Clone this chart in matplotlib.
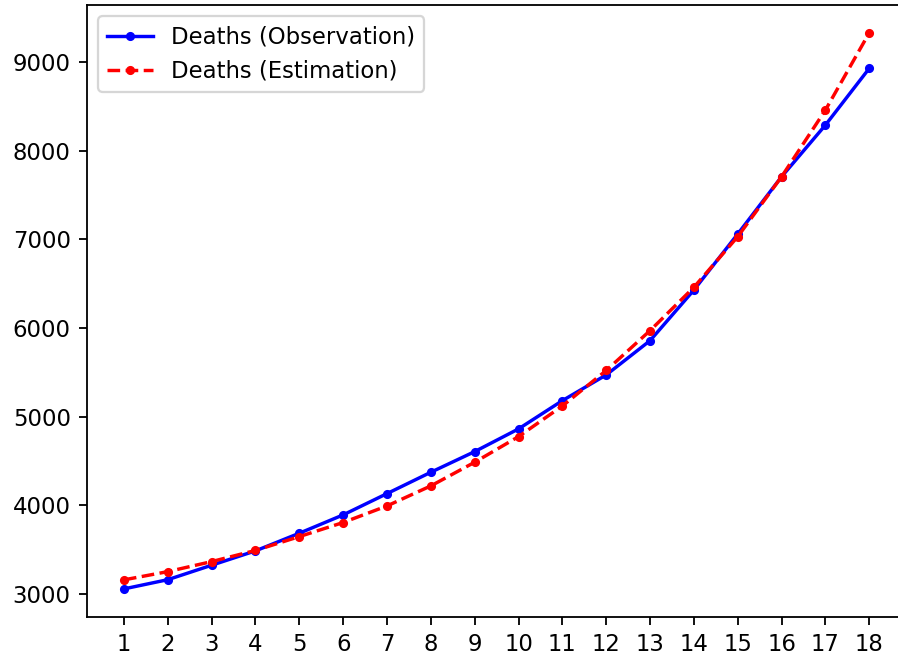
import matplotlib
matplotlib.use("Agg")
import matplotlib.pyplot as plt

days = list(range(1, 19))
observed = [3056, 3160, 3323, 3485, 3684, 3891, 4131, 4372, 4605, 4861,
            5180, 5470, 5857, 6428, 7060, 7706, 8289, 8929]
estimated = [3158, 3251, 3364, 3490, 3646, 3805, 3992, 4218, 4485, 4774,
             5120, 5520, 5970, 6459, 7030, 7706, 8458, 9330]

DPI = 164
fig = plt.figure(figsize=(898 / DPI, 656 / DPI), dpi=DPI)
ax = fig.add_axes([0.0965, 0.0599, 0.913, 0.9325])
ax.plot(days, observed, 'b.-', label='Deaths (Observation)')
ax.plot(days, estimated, 'r.--', label='Deaths (Estimation)')
ax.set_xticks(days)
ax.spines['right'].set_visible(False)
ax.legend(loc='upper left')
fig.savefig('out.png', dpi=DPI)
